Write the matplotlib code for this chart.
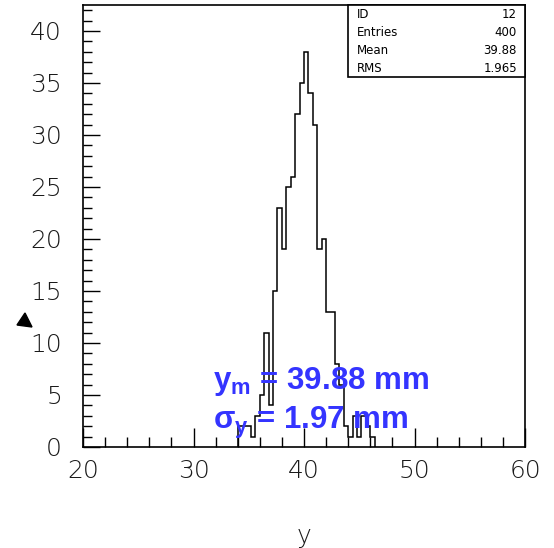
#!/usr/bin/env python
# histogram of the y position (ROOT style), 0.4 wide bins between 20 and 60
import matplotlib
matplotlib.use("Agg")
import matplotlib.pyplot as plt
from matplotlib.patches import Polygon, Rectangle
import numpy as np

# histogram data
y_first_edge = 34.0   # left edge of the first non empty bin
bin_width = 0.4
counts = [2, 2, 2, 1, 3, 5, 11, 4,            # 34.0 - 37.2
          15, 23, 19, 25, 26, 32, 35, 38,      # 37.2 - 40.4
          34, 31, 19, 20, 13, 13, 8, 6,        # 40.4 - 43.6
          2, 1, 3, 1, 3, 2, 1]                 # 43.6 - 46.4

x_ticks = [20, 30, 40, 50, 60]
y_ticks = [0, 5, 10, 15, 20, 25, 30, 35, 40]

# stats box contents
stats_names = ["ID", "Entries", "Mean", "RMS"]
stats_values = ["12", "400", "39.88", "1.965"]

# blue annotation
label_mean = "39.88"
label_sigma = "1.97"

plt.rcParams["mathtext.fontset"] = "custom"
plt.rcParams["mathtext.bf"] = "Liberation Sans:bold"
plt.rcParams["mathtext.rm"] = "Liberation Sans"

W, H = 554, 548
fig = plt.figure(figsize=(W / 100, H / 100), dpi=100)

def fx(px):  # pixel x -> figure fraction
    return px / W

def fy(py):  # pixel y (from top) -> figure fraction
    return 1 - py / H

ax = fig.add_axes([fx(83), fy(447), fx(525) - fx(83), fy(5) - fy(447)])

edges = y_first_edge + bin_width * np.arange(len(counts) + 1)
ax.stairs(counts, edges, color="black", linewidth=1.1, baseline=0)

ax.set_xlim(20, 60)
ax.set_ylim(0, 42.5)
ax.set_xticks(x_ticks)
ax.set_yticks(y_ticks)
ax.set_xticks(np.arange(20, 61, 2), minor=True)
ax.set_yticks(np.arange(0, 43, 1), minor=True)
ax.tick_params(which="both", direction="in", top=False, right=False,
               width=1.0, color="black")
ax.tick_params(axis="x", which="major", length=13.5, pad=9, labelsize=18)
ax.tick_params(axis="y", which="major", length=12.5, pad=15, labelsize=18)
ax.tick_params(axis="x", which="minor", length=7)
ax.tick_params(axis="y", which="minor", length=6.5)
for lab in ax.get_xticklabels() + ax.get_yticklabels():
    lab.set_color("#1a1a1a")
    lab.set_fontweight("light")
for sp in ax.spines.values():
    sp.set_linewidth(1.2)
    sp.set_color("black")

ax.set_xlabel("y", fontsize=18, color="#1a1a1a", fontweight="light",
              labelpad=29)

# stats box in the top right corner
box = Rectangle((fx(348), fy(77)), fx(525) - fx(348), fy(5) - fy(77),
                transform=fig.transFigure, facecolor="white",
                edgecolor="black", linewidth=1.2, zorder=5)
fig.add_artist(box)
row_y = [14, 32, 50, 68]
for name, val, py in zip(stats_names, stats_values, row_y):
    fig.text(fx(357), fy(py), name, ha="left", va="center", fontsize=8.5,
             family=["Liberation Sans Narrow", "DejaVu Sans"], zorder=6)
    fig.text(fx(517), fy(py), val, ha="right", va="center", fontsize=8.5,
             family=["Liberation Sans Narrow", "DejaVu Sans"], zorder=6)

# blue text with the fit results
blue = "#3434ff"
ax.text(31.75, 5.6, r"$\mathbf{y_m}$ = " + label_mean + " mm", color=blue,
        fontsize=22.5, fontweight="bold", family="Liberation Sans",
        va="baseline", ha="left")
ax.text(31.75, 1.75, r"σ$_\mathbf{y}$ = " + label_sigma + " mm", color=blue,
        fontsize=22.5, fontweight="bold", family="Liberation Sans",
        va="baseline", ha="left")

# little black triangle on the left
tri = Polygon([(fx(25), fy(313)), (fx(17), fy(325)), (fx(32), fy(327))],
              closed=True, transform=fig.transFigure, color="black")
fig.add_artist(tri)

fig.savefig("out.png", dpi=100)
